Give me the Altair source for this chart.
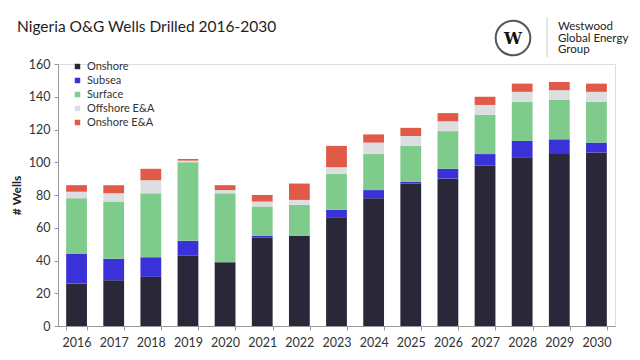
import altair as alt
import pandas as pd

years = [str(y) for y in range(2016, 2031)]
series = ["Onshore", "Subsea", "Surface", "Offshore E&A", "Onshore E&A"]
colors = ["#2a2738", "#3a31d8", "#7fcb8b", "#dddee2", "#e05a47"]

onshore     = [26, 28, 30, 43, 39, 54, 55, 66, 78, 87, 90, 98, 103, 105, 106]
subsea      = [18, 13, 12,  9,  0,  1,  0,  5,  5,  1,  6,  7,  10,   9,   6]
surface     = [34, 35, 39, 48, 42, 18, 19, 22, 22, 22, 23, 24,  24,  24,  25]
offshore_ea = [ 4,  5,  8,  1,  2,  3,  3,  4,  7,  6,  6,  6,   6,   6,   6]
onshore_ea  = [ 4,  5,  7,  1,  3,  4, 10, 13,  5,  5,  5,  5,   5,   5,   5]

title_text = "Nigeria O&G Wells Drilled 2016-2030"
logo_lines = ["Westwood", "Global Energy", "Group"]

vals = [onshore, subsea, surface, offshore_ea, onshore_ea]
rows = []
for si, (s, v) in enumerate(zip(series, vals)):
    for y, n in zip(years, v):
        rows.append({"Year": y, "Type": s, "Wells": n, "ord": si})
df = pd.DataFrame(rows)

FONT = "Lato"
one = pd.DataFrame({"a": [0]})

bars = alt.Chart(df).mark_bar().encode(
    x=alt.X("Year:N", sort=years,
            scale=alt.Scale(paddingInner=0.44, paddingOuter=0.22),
            axis=alt.Axis(title=None, labelAngle=0, labelFontSize=12.5, labelColor="#333",
                          labelFont=FONT, tickBand="extent", tickSize=4, tickColor="#999",
                          domainColor="#999", labelPadding=6)),
    y=alt.Y("Wells:Q", scale=alt.Scale(domain=[0, 160]),
            axis=alt.Axis(title="# Wells", values=list(range(0, 161, 20)), grid=False,
                          labelFontSize=12.5, labelColor="#333", labelFont=FONT,
                          titleFont=FONT, titleFontSize=12, titleFontWeight="bold",
                          titleColor="#222", titlePadding=5, tickSize=4, tickColor="#999",
                          domainColor="#999", labelPadding=4)),
    color=alt.Color("Type:N", scale=alt.Scale(domain=series, range=colors),
                    legend=alt.Legend(title=None, orient="none", legendX=14, legendY=-3,
                                      symbolType="square", symbolSize=30,
                                      labelFontSize=11, labelFont=FONT, labelColor="#333",
                                      rowPadding=2, symbolStrokeWidth=0)),
    order=alt.Order("ord:Q", sort="ascending"),
)

title = alt.Chart(one).mark_text(
    text=title_text, font=FONT, fontSize=15.5, color="#1e1e1e", align="left", baseline="middle"
).encode(x=alt.value(-41), y=alt.value(-37))

logo_circle = alt.Chart(one).mark_point(
    shape="circle", size=1200, stroke="#111", strokeWidth=2, filled=False
).encode(x=alt.value(455), y=alt.value(-26))

logo_w = alt.Chart(one).mark_text(
    text="W", font="DejaVu Serif", fontWeight="bold", fontSize=16, color="#111",
    align="center", baseline="middle"
).encode(x=alt.value(455), y=alt.value(-25))

logo_rule = alt.Chart(one).mark_rule(color="#ccc", strokeWidth=1).encode(
    x=alt.value(489), y=alt.value(-47), y2=alt.value(-7))

logo_text = alt.layer(*[
    alt.Chart(one).mark_text(
        text=t, font=FONT, fontSize=11.5, color="#222", align="left", baseline="middle"
    ).encode(x=alt.value(500), y=alt.value(-37 + 11.5 * i))
    for i, t in enumerate(logo_lines)
])

chart = alt.layer(bars, title, logo_circle, logo_w, logo_rule, logo_text).properties(
    width=557, height=262,
    autosize=alt.AutoSizeParams(type="none"),
    padding={"left": 50, "top": 56, "right": 17, "bottom": 26},
).configure_view(stroke=None).configure(background="white")

chart.save("out.html", embed_options={"renderer": "svg", "actions": False})
